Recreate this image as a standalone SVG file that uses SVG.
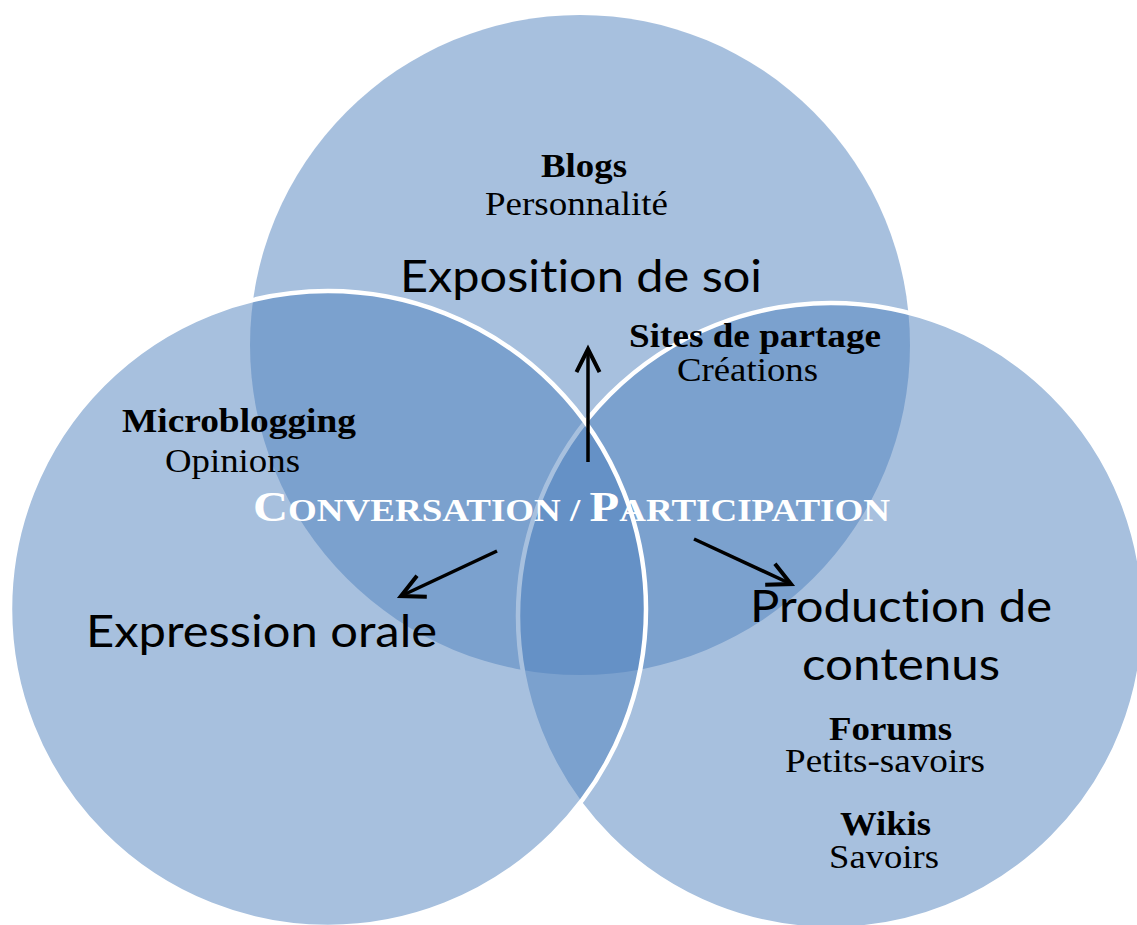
<svg xmlns="http://www.w3.org/2000/svg" width="1137" height="925" viewBox="0 0 1137 925">
  <style>
    .circle { fill: #4F81BD; fill-opacity: 0.5; }
    .stroked { stroke: #FFFFFF; stroke-width: 4.5; }
    .big { font-family: Lato, "Noto Sans", "Liberation Sans", sans-serif; font-size: 44px; fill: #000; font-variant-ligatures: none; }
    .title { font-family: "Liberation Serif", "Times New Roman", serif; font-size: 34px; font-weight: bold; fill: #000; }
    .sub { font-family: "Liberation Serif", "Times New Roman", serif; font-size: 34px; fill: #000; }
    .center { font-family: "Liberation Serif", "Times New Roman", serif; font-weight: bold; fill: #FFFFFF; }
    .arrow { stroke: #000; stroke-width: 3.5; fill: none; }
  </style>
  <defs>
    <marker id="open" markerUnits="userSpaceOnUse" markerWidth="30" markerHeight="30" viewBox="-22 -12 26 24" refX="0" refY="0" orient="auto">
      <path d="M -20 -10 L 0 0 L -20 10" fill="none" stroke="#000" stroke-width="3.5"/>
    </marker>
  </defs>
  <rect width="1137" height="925" fill="#FFFFFF"/>

  <g id="circle-exposition">
    <circle class="circle" cx="580" cy="345" r="330"/>
  </g>
  <g id="circle-production">
    <circle class="circle stroked" cx="831" cy="616" r="313"/>
  </g>
  <g id="circle-expression">
    <circle class="circle stroked" cx="328" cy="609" r="318"/>
  </g>

  <g id="node-exposition">
    <text class="title" x="541" y="177" textLength="86" lengthAdjust="spacingAndGlyphs">Blogs</text>
    <text class="sub" x="485" y="215" textLength="183" lengthAdjust="spacingAndGlyphs">Personnalité</text>
    <text class="big" x="400" y="292" textLength="362" lengthAdjust="spacingAndGlyphs">Exposition de soi</text>
    <text class="title" x="629" y="347" textLength="252" lengthAdjust="spacingAndGlyphs">Sites de partage</text>
    <text class="sub" x="677" y="381" textLength="141" lengthAdjust="spacingAndGlyphs">Créations</text>
  </g>

  <g id="node-expression">
    <text class="title" x="122" y="432" textLength="234" lengthAdjust="spacingAndGlyphs">Microblogging</text>
    <text class="sub" x="165" y="472" textLength="135" lengthAdjust="spacingAndGlyphs">Opinions</text>
    <text class="big" x="86" y="647" textLength="351" lengthAdjust="spacingAndGlyphs">Expression orale</text>
  </g>

  <g id="node-production">
    <text class="big" x="750" y="622" textLength="302" lengthAdjust="spacingAndGlyphs">Production de</text>
    <text class="big" x="802" y="680" textLength="198" lengthAdjust="spacingAndGlyphs">contenus</text>
    <text class="title" x="829" y="740" textLength="123" lengthAdjust="spacingAndGlyphs">Forums</text>
    <text class="sub" x="785" y="772" textLength="200" lengthAdjust="spacingAndGlyphs">Petits-savoirs</text>
    <text class="title" x="840" y="835" textLength="91" lengthAdjust="spacingAndGlyphs">Wikis</text>
    <text class="sub" x="829" y="868" textLength="110" lengthAdjust="spacingAndGlyphs">Savoirs</text>
  </g>

  <g id="node-center">
    <text class="center" x="253" y="521" textLength="637" lengthAdjust="spacingAndGlyphs"><tspan font-size="42">C</tspan><tspan font-size="32">ONVERSATION / </tspan><tspan font-size="42">P</tspan><tspan font-size="32">ARTICIPATION</tspan></text>
  </g>

  <g id="connectors">
    <line class="arrow" x1="588" y1="462" x2="588" y2="349" marker-end="url(#open)"/>
    <line class="arrow" x1="497" y1="551" x2="401" y2="596" marker-end="url(#open)"/>
    <line class="arrow" x1="694" y1="539" x2="791" y2="584" marker-end="url(#open)"/>
  </g>
</svg>
